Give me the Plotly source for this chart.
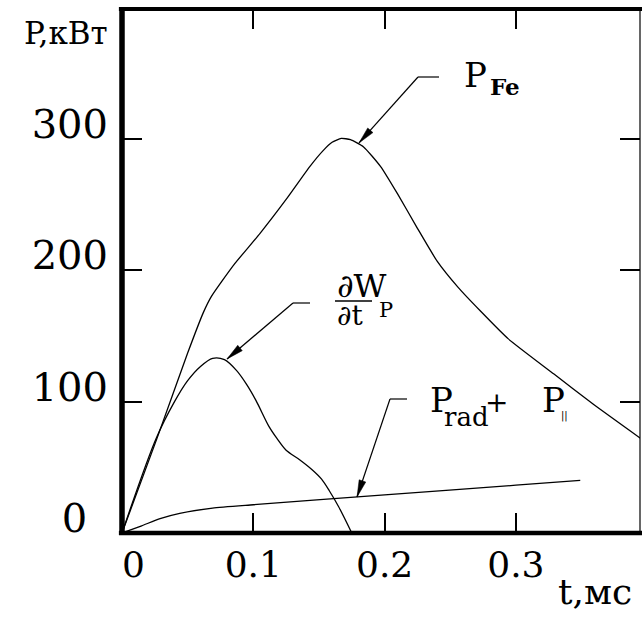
import plotly.graph_objects as go

# ---- data ----
t_fe = [0, 0.027, 0.05, 0.062, 0.068, 0.085, 0.105, 0.125, 0.143, 0.153, 0.16, 0.167,
        0.174, 0.184, 0.197, 0.21, 0.225, 0.24, 0.256, 0.273, 0.294, 0.329, 0.359, 0.395]
p_fe = [0, 73, 137, 168, 180, 204, 228, 254, 279, 291, 297.5, 300.5,
        299.5, 294, 279, 258, 232, 207, 187, 169, 148, 121, 98, 72]

t_dw = [0, 0.026, 0.04, 0.05, 0.06, 0.069, 0.078, 0.087, 0.095, 0.102, 0.112,
        0.118, 0.125, 0.135, 0.145, 0.152, 0.158, 0.165, 0.175]
p_dw = [0, 72, 100, 116, 127, 133, 132, 124, 113, 101, 81,
        72, 63, 56, 48, 41, 32, 20, 0]

t_rad = [0, 0.015, 0.029, 0.044, 0.069, 0.1, 0.2, 0.3, 0.349]
p_rad = [0, 5.5, 11, 15, 19, 21.5, 29, 36.4, 40]

x_ticks = [0, 0.1, 0.2, 0.3]
x_tick_text = ["\u20070", "0.1", "0.2", "0.3"]
y_ticks = [0, 100, 200, 300]
y_tick_text = ["0\u2008\u2009", "100", "200", "300"]

# arrow targets (points on the curves)
fe_arrow = (0.1805, 297)
dw_arrow = (0.080, 132.5)
rad_arrow = (0.179, 27.4)

# ---- layout helpers ----
W, H = 642, 622
L, R, T, B = 122, 640, 9, 533
XS = 1313.0     # px per unit t
YS = 1.3133     # px per kW
FONT = "DejaVu Serif"


def px(x):
    return (x - L) / (R - L)


def py(y):
    return (B - y) / (B - T)


fig = go.Figure()
for xs, ys, sm in [(t_fe, p_fe, 0.5), (t_dw, p_dw, 0.9), (t_rad, p_rad, 0.5)]:
    fig.add_trace(go.Scatter(x=xs, y=ys, mode="lines",
                             line=dict(color="black", width=1.3, shape="spline", smoothing=sm),
                             hoverinfo="skip", showlegend=False))

axis_common = dict(showgrid=False, zeroline=False, showline=False,
                   ticks="inside", ticklen=20, tickwidth=1.5, tickcolor="black",
                   mirror="ticks")

fig.update_xaxes(range=[0, (R - L) / XS], tickvals=x_ticks, ticktext=x_tick_text,
                 tickfont=dict(family=FONT, size=36, color="black"),
                 ticklabelstandoff=7, **axis_common)
fig.update_yaxes(range=[0, (B - T) / YS], tickvals=y_ticks, ticktext=y_tick_text,
                 tickfont=dict(family=FONT, size=40, color="black"),
                 ticklabelstandoff=13, ticklabelshift=-15, **axis_common)

shapes = [
    dict(type="line", xref="paper", yref="paper", x0=0, x1=0, y0=-0.004, y1=1.004,
         line=dict(color="black", width=5.5)),
    dict(type="line", xref="paper", yref="paper", x0=-0.006, x1=1.01, y0=0, y1=0,
         line=dict(color="black", width=4.5)),
    dict(type="line", xref="paper", yref="paper", x0=-0.006, x1=1.01, y0=1, y1=1,
         line=dict(color="black", width=4)),
    dict(type="line", xref="paper", yref="paper", x0=1, x1=1, y0=0, y1=1,
         line=dict(color="black", width=1.2)),
    # fraction bar
    dict(type="line", xref="paper", yref="paper", x0=px(335), x1=px(372), y0=py(301), y1=py(301),
         line=dict(color="black", width=1.3)),
]

# leader lines: horizontal stub + diagonal to the arrow tip, with a slender filled head
leaders = [(fe_arrow, (418, 77), 439), (dw_arrow, (293, 303), 310), (rad_arrow, (390, 399), 407)]
for (tt, pp), (tx0, ty0), xend in leaders:
    hx, hy = L + tt * XS, B - pp * YS
    shapes.append(dict(type="line", xref="paper", yref="paper", x0=px(tx0), x1=px(xend),
                       y0=py(ty0), y1=py(ty0), line=dict(color="black", width=1.2)))
    shapes.append(dict(type="line", xref="paper", yref="paper", x0=px(tx0), x1=px(hx),
                       y0=py(ty0), y1=py(hy), line=dict(color="black", width=1.2)))
    dx, dy = tx0 - hx, ty0 - hy
    n = (dx * dx + dy * dy) ** 0.5
    ux, uy = dx / n, dy / n
    blen, hw = 17, 3.5
    bx, by = hx + ux * blen, hy + uy * blen
    p1 = (bx - uy * hw, by + ux * hw)
    p2 = (bx + uy * hw, by - ux * hw)
    path = "M {} {} L {} {} L {} {} Z".format(px(hx), py(hy), px(p1[0]), py(p1[1]), px(p2[0]), py(p2[1]))
    shapes.append(dict(type="path", xref="paper", yref="paper", path=path,
                       fillcolor="black", line=dict(color="black", width=0.5)))

ann = []


def text(s, x, y, size, xanchor="left", bold=False, family=FONT):
    ann.append(dict(xref="paper", yref="paper", x=px(x), y=py(y), text=("<b>%s</b>" % s) if bold else s,
                    showarrow=False, xanchor=xanchor, yanchor="middle",
                    font=dict(family=family, size=size, color="black")))


text("P,кВт", 110, 32.5, 31, xanchor="right")
text("t,мс", 634, 591, 36, xanchor="right")
text("P", 462, 75.5, 34)
text("Fe", 488, 86.5, 23, bold=True)
text("∂W", 335, 286, 32)
text("∂t", 335, 315, 28)
text("P", 377, 309.5, 21)
text("P", 428, 399.5, 34)
text("rad", 442, 417, 26)
text("+", 496, 402.5, 28, xanchor="center")
text("P", 540, 399.5, 34)
text("||", 564, 416, 10, xanchor="center", family="DejaVu Sans")

fig.update_layout(width=W, height=H, margin=dict(l=L, r=W - R, t=T, b=H - B),
                  paper_bgcolor="white", plot_bgcolor="white",
                  shapes=shapes, annotations=ann, showlegend=False)

fig.write_html("out.html", config={"displayModeBar": False},
               post_script="document.body.style.margin='0';")
